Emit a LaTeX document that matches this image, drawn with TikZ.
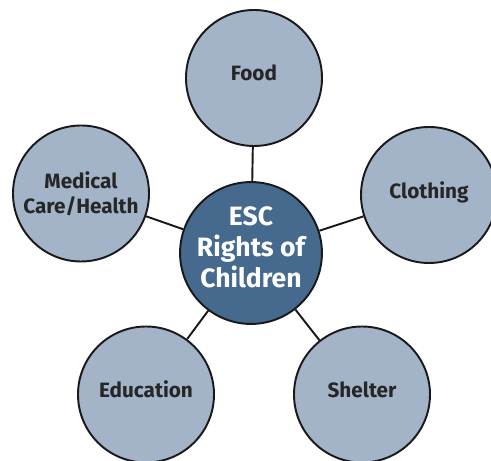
\documentclass[tikz,border=0pt]{standalone}
\usepackage{fontspec}
\setmainfont{Fira Sans}
\usetikzlibrary{positioning}
\definecolor{rimblue}{HTML}{A3B3C8}
\definecolor{hubblue}{HTML}{456A8E}
\tikzset{
    spoke edge/.style = {draw=black!90, line width=1.1pt},
    rim/.style = {circle, draw=black!90, line width=1.1pt, fill=rimblue, minimum size=2.72cm, inner sep=0pt, align=center, font=\fontsize{11.8}{14.2}\selectfont\bfseries, text=black!85},
    hub/.style = {rim, fill=hubblue, minimum size=2.74cm, font=\fontsize{15.1}{17.6}\selectfont\bfseries, text=white},
    oneline/.style = {text depth=0.2cm},
}

\begin{document}
\begin{tikzpicture}
				\useasboundingbox (0, 0) rectangle (9.82, -9.22);
				\clip (0, 0) rectangle (9.82, -9.22);
				\node[hub, text depth=0.24cm] (ESC) at (5.02, -5.06) {ESC\\Rights of\\Children};
				\node[rim, oneline] (Food) at (5.08, -1.56) {Food};
				\node[rim] (Medical) at (1.62, -3.87) {Medical\\Care/Health};
				\node[rim, oneline] (Clothing) at (8.58, -3.90) {Clothing};
				\node[rim, oneline] (Education) at (2.92, -7.89) {Education};
				\node[rim, oneline] (Shelter) at (7.24, -7.89) {Shelter};

				\draw[spoke edge] (ESC) -- (Food);
				\draw[spoke edge] (ESC) -- (Medical);
				\draw[spoke edge] (ESC) -- (Clothing);
				\draw[spoke edge] (ESC) -- (Education);
				\draw[spoke edge] (ESC) -- (Shelter);
			\end{tikzpicture}
\end{document}
